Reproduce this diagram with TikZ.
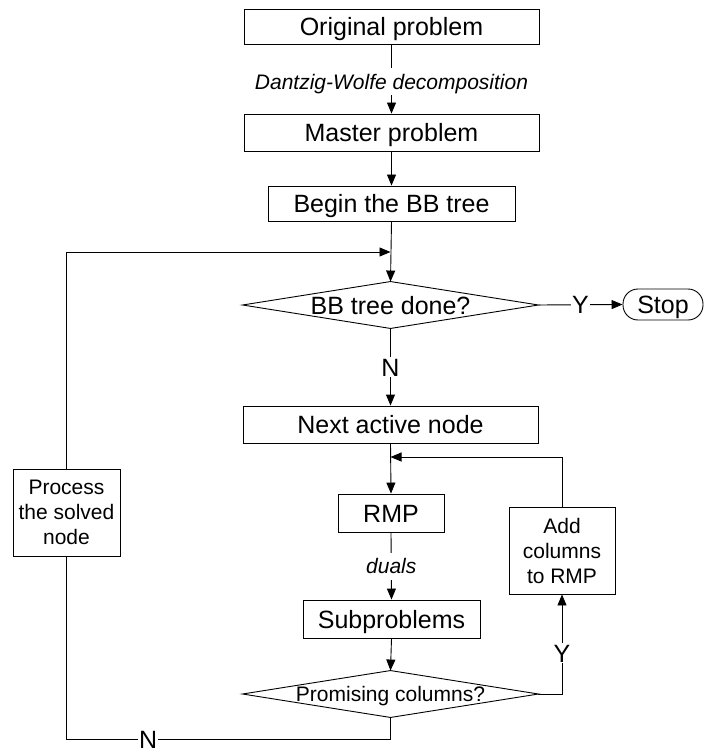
\documentclass[tikz,border=0pt]{standalone}
\usepackage{fontspec}
\setmainfont{Liberation Sans}
\usetikzlibrary{arrows.meta}
\begin{document}
\begin{tikzpicture}[x=1pt,y=-1pt,
  line width=0.9pt,
  big/.style={font=\fontsize{25}{30}\selectfont, text height=18pt, text depth=0pt},
  small/.style={font=\fontsize{21}{25}\selectfont, text height=15pt, text depth=0pt},
  box/.style={draw, rectangle, inner sep=0pt, big},
  smallbox/.style={draw, rectangle, inner sep=0pt, font=\fontsize{21}{25}\selectfont, align=center},
  decision/.style={rectangle, inner sep=0pt, minimum width=295pt, minimum height=46pt},
  terminal/.style={draw, rectangle, rounded corners=15pt, inner sep=0pt, big, minimum width=80pt, minimum height=31pt},
  arr/.style={-{Triangle[length=11pt,width=9pt]}},
  lbl/.style={fill=white, inner sep=1pt, big},
  ilbl/.style={fill=white, inner sep=1pt, font=\fontsize{21}{25}\selectfont\itshape, text height=20pt, text depth=5pt}
]
\useasboundingbox (0,0) rectangle (704,754);

% main column
\node[box, minimum width=295pt, minimum height=35pt] (orig) at (391.5,26.5) {Original problem};
\node[box, minimum width=295pt, minimum height=37pt] (master) at (391.5,132.5) {Master problem};
\node[box, minimum width=247pt, minimum height=35pt] (begin) at (391.5,203.5) {Begin the BB tree};
\node[decision, big] (done) at (390.5,305) {BB tree done?};
\draw (done.north) -- (done.east) -- (done.south) -- (done.west) -- cycle;
\node[terminal] (stop) at (663,304.5) {Stop};
\node[box, minimum width=295pt, minimum height=37pt] (next) at (390.5,424.5) {Next active node};
\node[box, minimum width=106pt, minimum height=38pt] (rmp) at (391,513) {RMP};
\node[box, minimum width=177pt, minimum height=38pt] (sub) at (391.5,619) {Subproblems};
\node[decision, small] (prom) at (390.5,694) {Promising columns?};
\draw (prom.north) -- (prom.east) -- (prom.south) -- (prom.west) -- cycle;

% side boxes
\node[smallbox, minimum width=106pt, minimum height=87pt] (add) at (562,550.5) {Add\\columns\\to RMP};
\node[smallbox, minimum width=107pt, minimum height=87pt] (proc) at (66.5,512.5) {Process\\the solved\\node};

% corner points of the loops
\coordinate (tl) at (66.5,252);
\coordinate (tj) at (390.5,252);
\coordinate (ar) at (562,457);
\coordinate (aj) at (390.5,457);
\coordinate (pr) at (562,694);
\coordinate (br) at (390.5,739);
\coordinate (bl) at (66.5,739);

% connectors
\draw[arr] (orig.south) -- node[ilbl, pos=0.54] {Dantzig-Wolfe decomposition} (master.north);
\draw[arr] (master.south) -- (begin.north);
\draw[arr] (begin.south) -- (done.north);
\draw[arr] (done.east) -- node[lbl] {Y} (stop.west);
\draw[arr] (done.south) -- node[lbl] {N} (next.north);
\draw[arr] (next.south) -- (rmp.north);
\draw[arr] (rmp.south) -- node[ilbl] {duals} (sub.north);
\draw[arr] (sub.south) -- (prom.north);
\draw[arr] (prom.east) -- (pr) -- node[lbl, pos=0.41] {Y} (add.south);
\draw[arr] (add.north) -- (ar) -- (aj);
\draw (prom.south) -- (br) -- node[lbl, inner ysep=0pt, pos=0.748] {N} (bl) -- (proc.south);
\draw[arr] (proc.north) -- (tl) -- (tj);
\end{tikzpicture}
\end{document}
